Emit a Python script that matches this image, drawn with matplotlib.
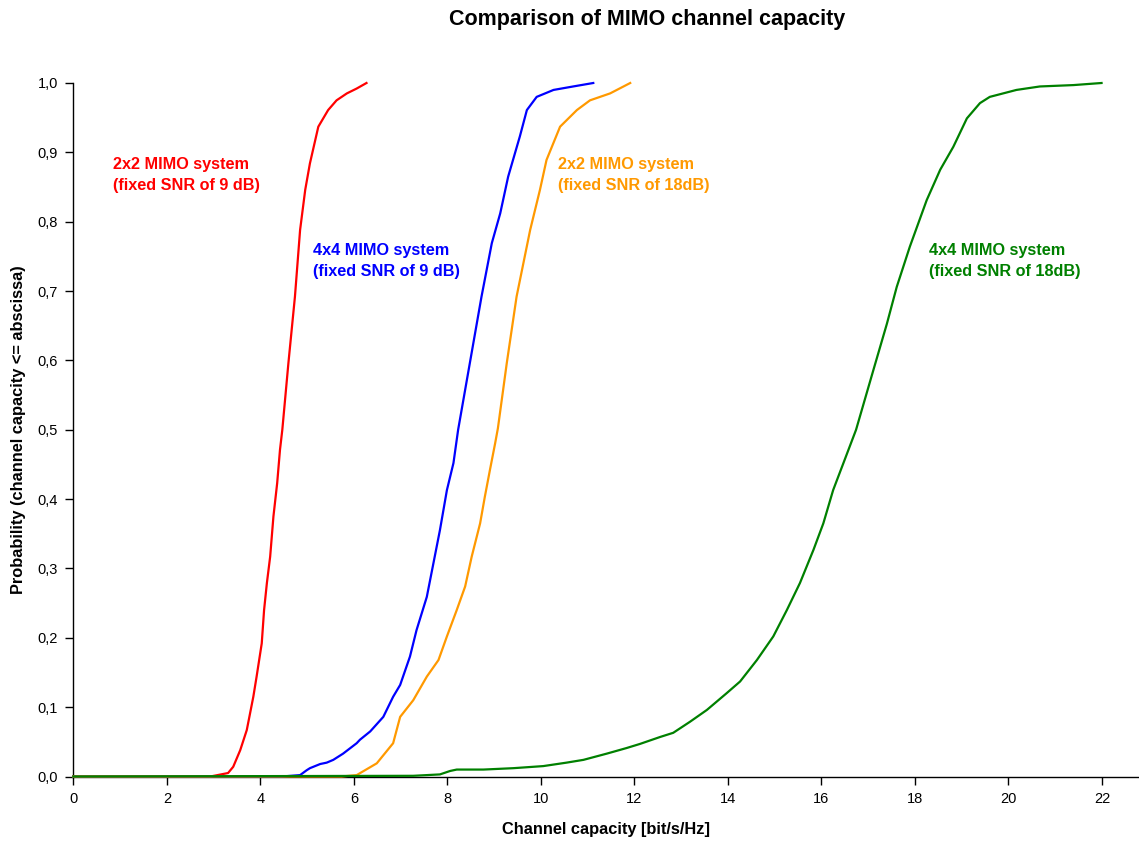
import matplotlib
matplotlib.use("Agg")
import matplotlib.pyplot as plt
from matplotlib.ticker import FuncFormatter

plt.rcParams["font.family"] = ["Liberation Sans", "DejaVu Sans"]

# CDF curves (x = capacity, y = probability)
red_x = [0.0, 2.93, 3.31, 3.42, 3.57, 3.71, 3.85, 3.92, 4.03, 4.08, 4.14, 4.21, 4.28,
         4.36, 4.42, 4.47, 4.60, 4.74, 4.85, 4.96, 5.06, 5.24, 5.45, 5.63, 5.85, 6.06, 6.27]
red_y = [0.0, 0.0, 0.005, 0.014, 0.038, 0.067, 0.115, 0.144, 0.192, 0.240, 0.279, 0.317, 0.375,
         0.423, 0.471, 0.500, 0.596, 0.692, 0.788, 0.846, 0.884, 0.937, 0.961, 0.975, 0.985, 0.992, 1.0]

blue_x = [0.0, 4.46, 4.85, 4.99, 5.06, 5.28, 5.42, 5.56, 5.77, 6.06, 6.13, 6.35, 6.63, 6.84,
          6.99, 7.20, 7.34, 7.56, 7.70, 7.84, 7.99, 8.13, 8.23, 8.48, 8.73, 8.95, 9.13, 9.30,
          9.55, 9.70, 9.91, 10.27, 10.69, 11.12]
blue_y = [0.0, 0.0, 0.002, 0.009, 0.012, 0.018, 0.020, 0.024, 0.033, 0.048, 0.053, 0.065, 0.086, 0.115,
          0.132, 0.173, 0.211, 0.259, 0.307, 0.355, 0.413, 0.452, 0.500, 0.596, 0.692, 0.769, 0.812, 0.865,
          0.923, 0.961, 0.980, 0.990, 0.995, 1.0]

orange_x = [0.0, 5.74, 6.06, 6.49, 6.84, 6.99, 7.27, 7.56, 7.81, 7.99, 8.20, 8.38, 8.52, 8.70,
            8.80, 8.91, 9.02, 9.08, 9.27, 9.48, 9.77, 9.98, 10.12, 10.41, 10.77, 11.05, 11.48, 11.91]
orange_y = [0.0, 0.0, 0.002, 0.019, 0.048, 0.086, 0.110, 0.144, 0.168, 0.202, 0.240, 0.274, 0.317, 0.365,
            0.403, 0.442, 0.480, 0.502, 0.596, 0.692, 0.788, 0.846, 0.889, 0.937, 0.961, 0.975, 0.985, 1.0]

green_x = [0.0, 7.27, 7.84, 8.06, 8.20, 8.77, 9.41, 10.05, 10.55, 10.91, 11.41, 11.83, 12.12, 12.55,
           12.83, 13.19, 13.55, 13.97, 14.26, 14.62, 14.97, 15.26, 15.54, 15.83, 16.04, 16.25, 16.47,
           16.74, 17.11, 17.40, 17.61, 17.89, 18.25, 18.54, 18.82, 19.11, 19.39, 19.60, 20.17, 20.67,
           21.39, 21.99]
green_y = [0.0, 0.001, 0.003, 0.008, 0.010, 0.010, 0.012, 0.015, 0.020, 0.024, 0.033, 0.041, 0.047, 0.057,
           0.063, 0.079, 0.096, 0.120, 0.137, 0.168, 0.202, 0.240, 0.279, 0.327, 0.365, 0.413, 0.452,
           0.500, 0.586, 0.653, 0.706, 0.764, 0.831, 0.875, 0.908, 0.949, 0.971, 0.980, 0.990, 0.995,
           0.997, 1.0]

series = [
    (red_x, red_y, "#FF0000", "2x2 MIMO system\n(fixed SNR of 9 dB)", 0.85, 0.867),
    (blue_x, blue_y, "#0000FF", "4x4 MIMO system\n(fixed SNR of 9 dB)", 5.13, 0.744),
    (orange_x, orange_y, "#FF9900", "2x2 MIMO system\n(fixed SNR of 18dB)", 10.36, 0.867),
    (green_x, green_y, "#008000", "4x4 MIMO system\n(fixed SNR of 18dB)", 18.30, 0.744),
]

W, H = 1139, 843
fig = plt.figure(figsize=(W / 100, H / 100), dpi=100)
x0, y0, y1 = 73.3, 776.5, 83.0
ax = fig.add_axes([x0 / W, (H - y0) / H, 1 - x0 / W, (y0 - y1) / H])

for xs, ys, color, label, tx, ty in series:
    ax.plot(xs, ys, color=color, lw=1.6, clip_on=False, zorder=3)
    ax.text(tx, ty, label, color=color, fontsize=11.7, fontweight="bold",
            ha="left", va="center", linespacing=1.5)

ax.set_xlim(0, (W - x0) / 46.76)
ax.set_ylim(0, 1.0)
ax.set_xticks(range(0, 23, 2))
ax.set_yticks([i / 10 for i in range(11)])
ax.yaxis.set_major_formatter(FuncFormatter(lambda v, p: f"{v:.1f}".replace(".", ",")))

for s in ("top", "right"):
    ax.spines[s].set_visible(False)
for s in ("left", "bottom"):
    ax.spines[s].set_color("#000000")
    ax.spines[s].set_linewidth(1.0)
ax.tick_params(direction="out", length=6, width=1.0, labelsize=10.5, colors="#000000", pad=5)

ax.set_xlabel("Channel capacity [bit/s/Hz]", fontsize=11.8, fontweight="bold", labelpad=12)
ax.set_ylabel("Probability (channel capacity <= abscissa)", fontsize=11.8, fontweight="bold",
              labelpad=8)
fig.text(647 / W, 1 - 19 / H, "Comparison of MIMO channel capacity", fontsize=15.5,
         fontweight="bold", ha="center", va="center")

fig.savefig("out.png", dpi=100)
